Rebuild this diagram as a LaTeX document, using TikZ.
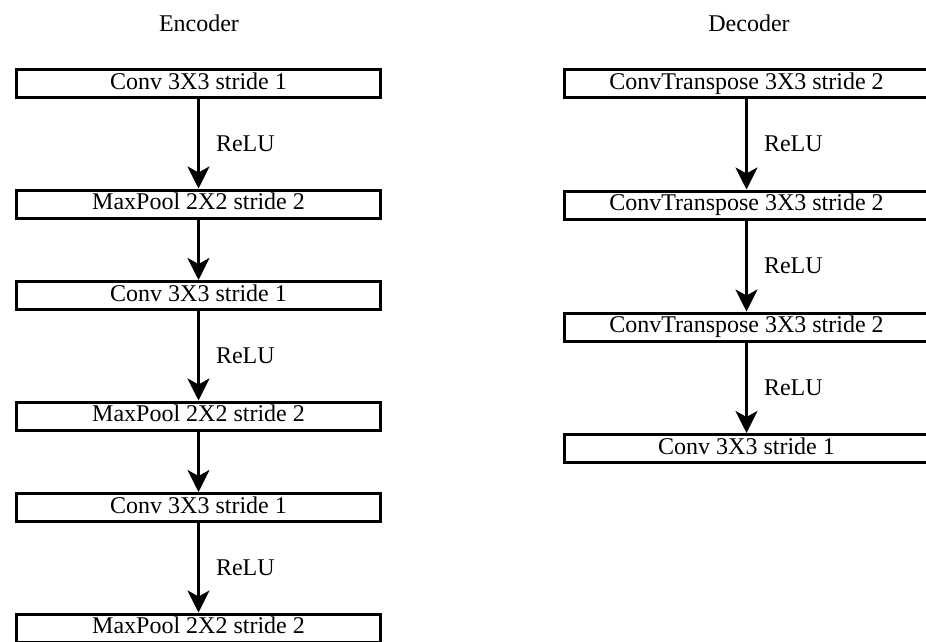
\documentclass[tikz,border=0pt]{standalone}
\usepackage{fontspec}
\setmainfont{Liberation Serif}
\usetikzlibrary{arrows.meta}

\begin{document}
\begin{tikzpicture}[x=1pt, y=-1pt,
  every node/.style={font=\fontsize{24}{28}\selectfont},
  layer/.style={draw, line width=3pt, minimum width=364pt, minimum height=28pt,
    inner sep=0pt, text height=16pt, text depth=5pt},
  flow/.style={line width=3pt, -{Stealth[length=22pt, width=22pt, inset=6pt]}},
  act/.style={anchor=west, xshift=16pt, inner sep=0pt}]
\useasboundingbox (0,0) rectangle (926,642);
\clip (0,0) rectangle (926,642);

\node (enc) at (199, 23) {Encoder};
\node (dec) at (749, 23) {Decoder};

% encoder
\node [layer] (e1) at (198.5, 83.5) {Conv 3X3 stride 1};
\node [layer] (e2) at (198.5, 204) {MaxPool 2X2 stride 2};
\node [layer] (e3) at (198.5, 295.5) {Conv 3X3 stride 1};
\node [layer] (e4) at (198.5, 416) {MaxPool 2X2 stride 2};
\node [layer] (e5) at (198.5, 507.5) {Conv 3X3 stride 1};
\node [layer] (e6) at (198.5, 628) {MaxPool 2X2 stride 2};

\draw [flow] (e1) -- node [act] {ReLU} (e2);
\draw [flow] (e2) -- (e3);
\draw [flow] (e3) -- node [act] {ReLU} (e4);
\draw [flow] (e4) -- (e5);
\draw [flow] (e5) -- node [act] {ReLU} (e6);

% decoder
\node [layer] (d1) at (746.5, 83.5) {ConvTranspose 3X3 stride 2};
\node [layer] (d2) at (746.5, 205) {ConvTranspose 3X3 stride 2};
\node [layer] (d3) at (746.5, 327) {ConvTranspose 3X3 stride 2};
\node [layer] (d4) at (746.5, 448.5) {Conv 3X3 stride 1};

\draw [flow] (d1) -- node [act] {ReLU} (d2);
\draw [flow] (d2) -- node [act] {ReLU} (d3);
\draw [flow] (d3) -- node [act] {ReLU} (d4);
\end{tikzpicture}
\end{document}
